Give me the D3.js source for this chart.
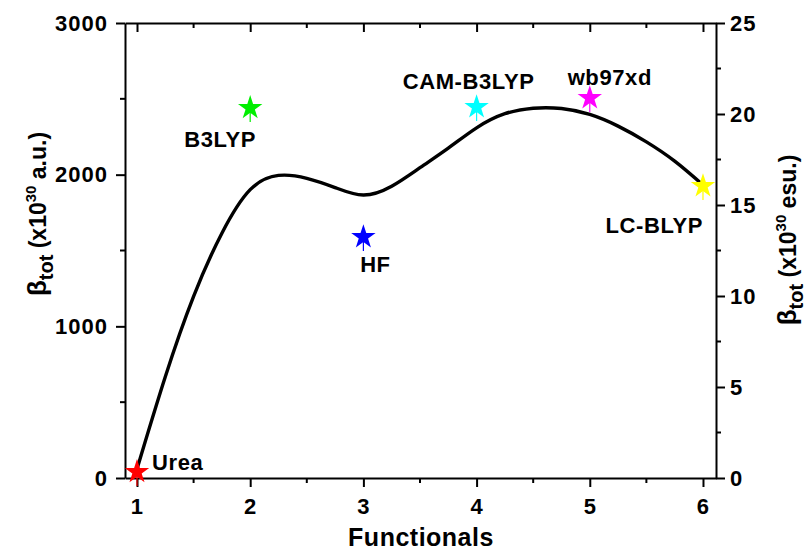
<!DOCTYPE html>
<html>
<head>
<meta charset="utf-8">
<script src="https://cdn.jsdelivr.net/npm/d3@7"></script>
<style>
  body { margin: 0; background: #fff; }
  text { font-family: "Liberation Sans", Arial, sans-serif; font-weight: bold; fill: #000; }
</style>
</head>
<body>
<div id="chart"></div>
<script>
// star points (one per functional)
var names = ['Urea', 'B3LYP', 'HF', 'CAM-B3LYP', 'wb97xd', 'LC-BLYP'];
var functionals = [1, 2, 3, 4, 5, 6];
var betaTot = [40, 2440, 1589, 2446, 2505, 1925];
var colors = ['#ff0000', '#00ee00', '#0000ff', '#00ffff', '#ff00ff', '#ffff00'];

// smoothed curve
var fitX = [1.0, 1.25, 1.5, 1.75, 2.0, 2.25, 2.5, 2.75, 3.0, 3.25, 3.5, 3.75, 4.0, 4.25, 4.5, 4.75, 5.0, 5.25, 5.5, 5.75, 6.0];
var fitY = [60, 668, 1198, 1614, 1901, 1995, 1976, 1915, 1866, 1924, 2046, 2175, 2309, 2402, 2438, 2436, 2397, 2320, 2216, 2089, 1932];

var leftTicks = [0, 1000, 2000, 3000];
var rightTicks = [0, 5, 10, 15, 20, 25];
var xTicks = [1, 2, 3, 4, 5, 6];

var W = 807, H = 550;
var m = {left: 125, right: 91, top: 23, bottom: 72};
var iw = W - m.left - m.right, ih = H - m.top - m.bottom;

var svg = d3.select('#chart').append('svg')
  .attr('width', W)
  .attr('height', H);

var x = d3.scaleLinear().domain([0.894, 6.115]).range([m.left, m.left + iw]);
var y = d3.scaleLinear().domain([0, 3000]).range([m.top + ih, m.top]);
var y2 = d3.scaleLinear().domain([0, 25]).range([m.top + ih, m.top]);

var minorX = d3.range(1.5, 6, 1);
var minorY = d3.range(500, 3000, 1000);
var minorY2 = d3.range(2.5, 25, 5);

function minor(g, vals, f) {
  vals.forEach(function(d) {
    var p = f(d);
    g.append('line').attr('x1', p[0]).attr('x2', p[1]).attr('y1', p[2]).attr('y2', p[3])
      .attr('stroke', '#000').attr('stroke-width', 2);
  });
}

// bottom axis
var gx = svg.append('g').attr('transform', 'translate(0,' + (m.top + ih) + ')')
  .call(d3.axisBottom(x).tickValues(xTicks).tickFormat(d3.format('d')).tickSize(9).tickSizeOuter(0).tickPadding(11));
minor(gx, minorX, function(d) { return [x(d), x(d), 0, 5]; });

// top axis, inward ticks
var gt = svg.append('g').attr('transform', 'translate(0,' + m.top + ')')
  .call(d3.axisTop(x).tickValues(xTicks).tickFormat('').tickSize(-9).tickSizeOuter(0));
minor(gt, minorX, function(d) { return [x(d), x(d), 0, 5]; });

// left axis
var gl = svg.append('g').attr('transform', 'translate(' + m.left + ',0)')
  .call(d3.axisLeft(y).tickValues(leftTicks).tickFormat(d3.format('d')).tickSize(9).tickSizeOuter(0).tickPadding(8));
minor(gl, minorY, function(d) { return [0, -5, y(d), y(d)]; });

// right axis
var gr = svg.append('g').attr('transform', 'translate(' + (m.left + iw) + ',0)')
  .call(d3.axisRight(y2).tickValues(rightTicks).tickSize(9).tickSizeOuter(0).tickPadding(5));
minor(gr, minorY2, function(d) { return [0, 5, y2(d), y2(d)]; });

svg.selectAll('.domain').attr('stroke', '#000').attr('stroke-width', 2);
svg.selectAll('.tick line').attr('stroke', '#000').attr('stroke-width', 2);
svg.selectAll('.tick text')
  .style('font-size', '22px')
  .style('letter-spacing', '1px')
  .style('font-family', '"Liberation Sans", Arial, sans-serif')
  .style('font-weight', 'bold');

// fitted curve
var line = d3.line()
  .x(function(d, i) { return x(fitX[i]); })
  .y(function(d) { return y(d); })
  .curve(d3.curveNatural);

svg.append('path')
  .datum(fitY)
  .attr('d', line)
  .attr('fill', 'none')
  .attr('stroke', '#000')
  .attr('stroke-width', 3.4);

// stars
var star = d3.symbol().type(d3.symbolStar).size(185);
var pts = svg.selectAll('.pt').data(betaTot).enter().append('g')
  .attr('class', 'pt')
  .attr('transform', function(d, i) { return 'translate(' + x(functionals[i]) + ',' + y(d) + ')'; });
pts.append('line')
  .attr('x1', 0).attr('x2', 0).attr('y1', 0).attr('y2', 14)
  .attr('stroke', function(d, i) { return colors[i]; }).attr('stroke-width', 1.2);
pts.append('path')
  .attr('d', star)
  .attr('fill', function(d, i) { return colors[i]; });

// point labels
var labelPos = [
  {dx: 15, dy: -2, anchor: 'start'},
  {dx: -30, dy: 39, anchor: 'middle'},
  {dx: 12, dy: 35, anchor: 'middle'},
  {dx: -8, dy: -18, anchor: 'middle'},
  {dx: 20, dy: -13, anchor: 'middle'},
  {dx: 0, dy: 47, anchor: 'end'}
];
svg.selectAll('.lbl').data(names).enter().append('text')
  .attr('class', 'lbl')
  .attr('x', function(d, i) { return x(functionals[i]) + labelPos[i].dx; })
  .attr('y', function(d, i) { return y(betaTot[i]) + labelPos[i].dy; })
  .attr('text-anchor', function(d, i) { return labelPos[i].anchor; })
  .style('font-size', '22px')
  .style('letter-spacing', '0.6px')
  .text(function(d) { return d; });

// axis titles
svg.append('text')
  .attr('x', 421)
  .attr('y', 546)
  .attr('text-anchor', 'middle')
  .style('font-size', '25px')
  .style('letter-spacing', '0.5px')
  .text('Functionals');

function betaLabel(tx, ty, unit) {
  var t = svg.append('text')
    .attr('transform', 'translate(' + tx + ',' + ty + ') rotate(-90)')
    .attr('text-anchor', 'middle')
    .style('font-size', '23px');
  t.append('tspan').style('font-size', '26px').text('\u03B2');
  t.append('tspan').attr('dy', 7).style('font-size', '20px').text('tot');
  t.append('tspan').attr('dy', -7).text(' (x10');
  t.append('tspan').attr('dy', -10).style('font-size', '15px').text('30');
  t.append('tspan').attr('dy', 10).text(unit);
}
betaLabel(46, 214, ' a.u.)');
betaLabel(796, 240, ' esu.)');
</script>
</body>
</html>
